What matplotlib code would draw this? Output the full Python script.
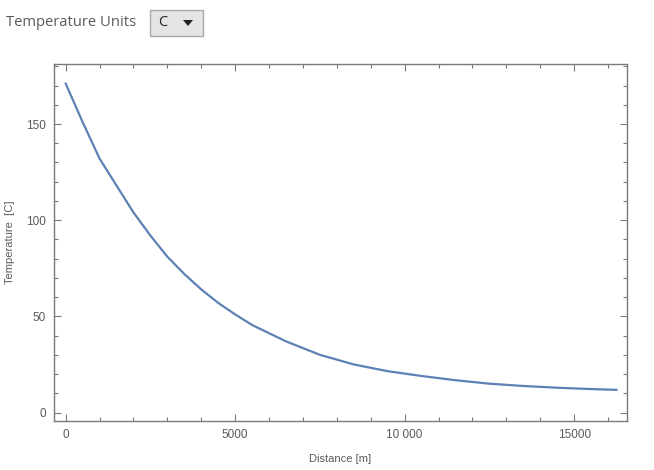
import matplotlib
matplotlib.use('Agg')
import matplotlib.pyplot as plt
from matplotlib.patches import Rectangle, Polygon
from matplotlib.ticker import MultipleLocator, FixedLocator

# Temperature profile
distance = [0, 500, 1000, 1500, 2000, 2500, 3000, 3500, 4000, 4500, 5000, 5500, 6500, 7500,
            8500, 9500, 10500, 11500, 12500, 13500, 14500, 15500, 16250]
temperature = [171, 151, 132, 118, 104, 92, 81, 72, 64, 57, 51, 45.5, 37, 30,
               25, 21.5, 19, 16.8, 15, 13.8, 12.9, 12.2, 11.8]

x_ticks = [0, 5000, 10000, 15000]
x_tick_labels = ["0", "5000", "10 000", "15000"]
y_ticks = [0, 50, 100, 150]

unit = "C"
x_label = "Distance [m]"
y_label = "Temperature  [C]"

W, H = 654, 470
fig = plt.figure(figsize=(W / 100, H / 100), dpi=100)

# header control: "Temperature Units" + dropdown
fig.text(6 / W, 1 - 22 / H, "Temperature Units", fontsize=10.6, color="#5a5a5a",
         family="Open Sans", va="center", ha="left")
fig.add_artist(Rectangle((150 / W, 1 - 36 / H), 53 / W, 26 / H,
                         transform=fig.transFigure, facecolor="#e4e4e4",
                         edgecolor="#a8a8a8", lw=1))
fig.text(158 / W, 1 - 23 / H, unit, fontsize=10.5, color="#222222",
         family="Open Sans", va="center", ha="left")
fig.add_artist(Polygon([(183 / W, 1 - 20 / H), (193 / W, 1 - 20 / H), (188 / W, 1 - 26 / H)],
                       closed=True, transform=fig.transFigure, facecolor="#222222",
                       edgecolor="none"))

ax = fig.add_axes([54 / W, 1 - 421 / H, (627 - 54) / W, (421 - 64) / H])
ax.plot(distance, temperature, color="#5e81b5", lw=1.6)

ax.set_xlim(-345, 16560)
ax.set_ylim(-4.4, 181.2)

ax.xaxis.set_major_locator(FixedLocator(x_ticks))
ax.set_xticklabels(x_tick_labels)
ax.xaxis.set_minor_locator(MultipleLocator(1000))
ax.yaxis.set_major_locator(FixedLocator(y_ticks))
ax.yaxis.set_minor_locator(MultipleLocator(10))

for s in ax.spines.values():
    s.set_color("#7a7a7a")
    s.set_linewidth(1)

ax.tick_params(which="both", direction="in", top=True, right=True,
               colors="#7a7a7a", labelcolor="#5a5a5a", labelsize=8.5, width=0.8)
ax.tick_params(which="major", length=5, pad=6)
ax.tick_params(which="minor", length=3)
for lab in ax.get_xticklabels() + ax.get_yticklabels():
    lab.set_family("Liberation Sans")

ax.set_xlabel(x_label, fontsize=8, color="#5a5a5a", family="Liberation Sans", labelpad=9)
ax.set_ylabel(y_label, fontsize=8, color="#5a5a5a", family="Liberation Sans", labelpad=8)

fig.savefig("out.png", dpi=100)
